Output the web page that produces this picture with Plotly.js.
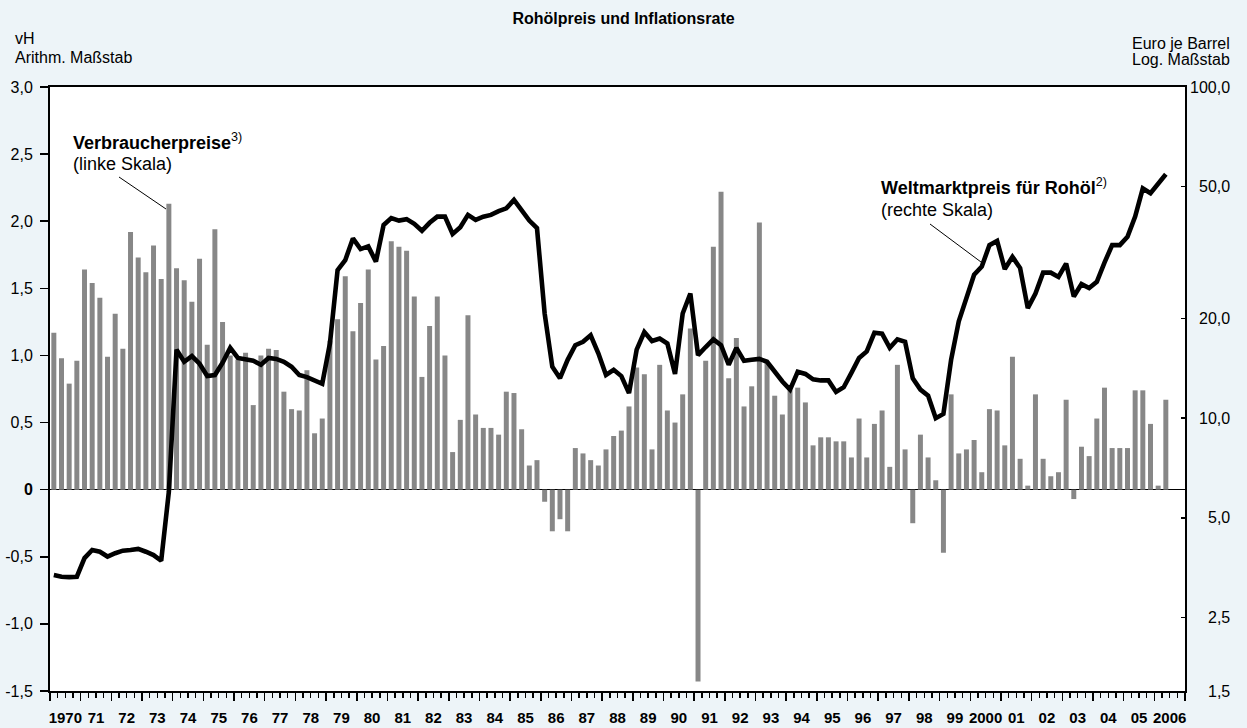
<!DOCTYPE html>
<html>
<head>
<meta charset="utf-8">
<script src="https://cdn.plot.ly/plotly-3.0.1.min.js"></script>
<style>
  html, body { margin: 0; padding: 0; background: #EDF4F8; }
  #chart { width: 1247px; height: 728px; }
</style>
</head>
<body>
<div id="chart"></div>
<script>
// ---- Data (quarterly, 1970 Q1 – 2006 Q2) ----
const firstYear = 1970;
const lastYear = 2006;

// Verbraucherpreise, Veränderung gegenüber Vorquartal in vH (linke Skala)
const consumerPrices = [
  1.17, 0.98, 0.79, 0.96,   // 1970
  1.64, 1.54, 1.43, 0.99,   // 1971
  1.31, 1.05, 1.92, 1.73,   // 1972
  1.62, 1.82, 1.57, 2.13,   // 1973
  1.65, 1.56, 1.40, 1.72,   // 1974
  1.08, 1.94, 1.25, 1.00,   // 1975
  0.97, 1.02, 0.63, 1.00,   // 1976
  1.05, 1.04, 0.73, 0.60,   // 1977
  0.59, 0.89, 0.42, 0.53,   // 1978
  1.11, 1.27, 1.59, 1.18,   // 1979
  1.39, 1.64, 0.97, 1.07,   // 1980
  1.85, 1.81, 1.78, 1.44,   // 1981
  0.84, 1.22, 1.44, 1.00,   // 1982
  0.28, 0.52, 1.30, 0.56,   // 1983
  0.46, 0.46, 0.41, 0.73,   // 1984
  0.72, 0.45, 0.18, 0.22,   // 1985
  -0.09, -0.31, -0.22, -0.31, // 1986
  0.31, 0.27, 0.22, 0.18,   // 1987
  0.30, 0.40, 0.44, 0.62,   // 1988
  0.91, 0.86, 0.30, 0.93,   // 1989
  0.59, 0.50, 0.71, 1.20,   // 1990
  -1.43, 0.96, 1.81, 2.22,  // 1991
  0.83, 1.13, 0.62, 0.77,   // 1992
  1.99, 0.95, 0.70, 0.56,   // 1993
  0.74, 0.76, 0.65, 0.33,   // 1994
  0.39, 0.39, 0.36, 0.36,   // 1995
  0.24, 0.53, 0.24, 0.49,   // 1996
  0.59, 0.17, 0.93, 0.30,   // 1997
  -0.25, 0.41, 0.24, 0.07,  // 1998
  -0.47, 0.71, 0.27, 0.30,  // 1999
  0.37, 0.13, 0.60, 0.59,   // 2000
  0.33, 0.99, 0.23, 0.03,   // 2001
  0.71, 0.23, 0.10, 0.13,   // 2002
  0.67, -0.07, 0.32, 0.25,  // 2003
  0.53, 0.76, 0.31, 0.31,   // 2004
  0.31, 0.74, 0.74, 0.49,   // 2005
  0.03, 0.67                // 2006
];

// Weltmarktpreis für Rohöl, Euro je Barrel (rechte Skala, log.)
const oilPrice = [
  3.36, 3.32, 3.31, 3.32,   // 1970
  3.78, 4.00, 3.95, 3.82,   // 1971
  3.91, 3.98, 4.00, 4.03,   // 1972
  3.95, 3.86, 3.71, 6.00,   // 1973
  16.1, 14.8, 15.4, 14.6,   // 1974
  13.4, 13.5, 14.7, 16.3,   // 1975
  15.2, 15.1, 14.9, 14.5,   // 1976
  15.2, 15.1, 14.8, 14.3,   // 1977
  13.5, 13.3, 13.0, 12.7,   // 1978
  16.8, 28.0, 30.0, 34.9,   // 1979
  32.4, 33.0, 29.7, 38.3,   // 1980
  40.2, 39.5, 39.9, 38.6,   // 1981
  36.8, 38.9, 40.6, 40.6,   // 1982
  36.0, 37.7, 41.1, 39.7,   // 1983
  40.6, 41.1, 42.2, 43.0,   // 1984
  45.6, 42.7, 39.5, 37.5,   // 1985
  20.7, 14.3, 13.2, 15.0,   // 1986
  16.6, 17.0, 17.8, 15.7,   // 1987
  13.5, 14.0, 13.4, 11.9,   // 1988
  16.1, 18.2, 17.1, 17.4,   // 1989
  16.8, 13.6, 20.7, 23.8,   // 1990
  15.5, 16.4, 17.3, 16.6,   // 1991
  14.5, 16.3, 14.9, 15.0,   // 1992
  15.1, 14.8, 13.8, 12.9,   // 1993
  12.2, 13.8, 13.6, 13.1,   // 1994
  13.0, 13.0, 12.0, 12.4,   // 1995
  13.7, 15.2, 15.9, 18.1,   // 1996
  18.0, 16.3, 17.3, 17.0,   // 1997
  13.2, 12.2, 11.7, 10.0,   // 1998
  10.3, 15.0, 19.6, 23.0,   // 1999
  27.1, 28.7, 33.3, 34.3,   // 2000
  28.2, 30.7, 28.4, 21.5,   // 2001
  23.8, 27.5, 27.5, 26.7,   // 2002
  29.3, 23.3, 25.4, 24.7,   // 2003
  25.8, 29.5, 33.3, 33.3,   // 2004
  35.3, 40.6, 49.4, 47.8,   // 2005
  51.2, 54.5                // 2006
];

// Tick labels
const yearLabels = ["1970","71","72","73","74","75","76","77","78","79",
  "80","81","82","83","84","85","86","87","88","89","90","91","92","93","94",
  "95","96","97","98","99","2000","01","02","03","04","05","2006"];
const leftTickVals = [3, 2.5, 2, 1.5, 1, 0.5, 0, -0.5, -1, -1.5];
const leftTickText = ["3,0","2,5","2,0","1,5","1,0","0,5","<b>0</b>","-0,5","-1,0","-1,5"];
const rightTickVals = [100, 50, 20, 10, 5, 2.5, 1.5];
const rightTickText = ["100,0","50,0","20,0","10,0","5,0","2,5","1,5"];

// ---- Quarter positions (decimal years, quarter centres) ----
const quarterX = [];
for (let y = firstYear; y <= lastYear; y++) {
  for (let q = 0; q < 4; q++) quarterX.push(y + (q + 0.5) / 4);
}
const yearCenters = yearLabels.map((_, i) => firstYear + i + 0.5);

// ---- Layout geometry helpers (pixel -> paper) ----
const W = 1247, H = 728;
const M = { l: 50, r: 62, t: 87, b: 37 };
const PW = W - M.l - M.r, PH = H - M.t - M.b;
const px = x => (x - M.l) / PW;
const py = y => (H - M.b - y) / PH;

const FONT = "Liberation Sans, Arial, Helvetica, sans-serif";

const traces = [
  {
    type: "bar",
    x: quarterX.slice(0, consumerPrices.length),
    y: consumerPrices,
    marker: { color: "#878787", line: { width: 0 } },
    xaxis: "x", yaxis: "y",
    hoverinfo: "x+y",
    name: "Verbraucherpreise"
  },
  {
    type: "scatter",
    mode: "lines",
    x: quarterX.slice(0, oilPrice.length),
    y: oilPrice,
    line: { color: "#000000", width: 4.6 },
    xaxis: "x", yaxis: "y2",
    name: "Weltmarktpreis für Rohöl"
  },
  {
    type: "scatter", mode: "markers",
    x: [yearCenters[0]], y: [null],
    xaxis: "x2", yaxis: "y",
    hoverinfo: "skip", showlegend: false
  }
];

const annotations = [
  { text: "<b>Verbraucherpreise</b><sup>3)</sup>", x: px(71), y: py(142), size: 18 },
  { text: "(linke Skala)", x: px(71), y: py(164), size: 18 },
  { text: "<b>Weltmarktpreis für Rohöl</b><sup>2)</sup>", x: px(879), y: py(187), size: 18 },
  { text: "(rechte Skala)", x: px(879), y: py(210), size: 18 },
  { text: "vH", x: px(13), y: py(38), size: 16 },
  { text: "Arithm. Maßstab", x: px(13), y: py(57), size: 16 },
  { text: "Euro je Barrel", x: px(1232), y: py(43), size: 16, right: true },
  { text: "Log. Maßstab", x: px(1232), y: py(60), size: 16, right: true }
].map(a => ({
  text: a.text, x: a.x, y: a.y,
  xref: "paper", yref: "paper", showarrow: false,
  xanchor: a.right ? "right" : "left", yanchor: "middle",
  font: { family: FONT, size: a.size, color: "#000" }
}));

rightTickVals.forEach((v, i) => {
  annotations.push({
    text: rightTickText[i], xref: "paper", yref: "y2",
    x: px(1232), y: Math.log10(v), xanchor: "right", yanchor: "middle",
    showarrow: false, font: { family: FONT, size: 16, color: "#000" }
  });
});

const shapes = [
  { type: "line", xref: "paper", yref: "paper", x0: px(119), y0: py(177), x1: px(166), y1: py(209),
    line: { color: "#000", width: 1 } },
  { type: "line", xref: "paper", yref: "paper", x0: px(930), y0: py(224), x1: px(981), y1: py(262),
    line: { color: "#000", width: 1 } }
];

const layout = {
  width: W, height: H,
  margin: M,
  paper_bgcolor: "#EDF4F8",
  plot_bgcolor: "#FFFFFF",
  showlegend: false,
  bargap: 0.35,
  font: { family: FONT, size: 16, color: "#000" },
  title: {
    text: "<b>Rohölpreis und Inflationsrate</b>",
    x: 0.5, xref: "container", xanchor: "center",
    y: 1 - 18 / H, yref: "container", yanchor: "middle",
    font: { family: FONT, size: 16, color: "#000" }
  },
  xaxis: {
    range: [firstYear, lastYear + 1],
    tickmode: "linear", tick0: firstYear, dtick: 1,
    ticks: "outside", ticklen: 8, tickwidth: 1.5, tickcolor: "#000",
    minor: { ticks: "outside", ticklen: 5, tickwidth: 1.5, tickcolor: "#000", dtick: 0.25, tick0: firstYear, showgrid: false },
    showticklabels: false,
    showline: true, linewidth: 2, linecolor: "#000", mirror: true,
    showgrid: false, zeroline: false, fixedrange: true
  },
  xaxis2: {
    overlaying: "x", anchor: "y", side: "bottom",
    range: [firstYear, lastYear + 1],
    tickmode: "array", tickvals: yearCenters, ticktext: yearLabels,
    ticks: "", ticklabelstandoff: 16,
    tickfont: { family: FONT, size: 15, color: "#000", weight: "bold" },
    showline: false, showgrid: false, zeroline: false, fixedrange: true
  },
  yaxis: {
    range: [-1.5, 3],
    tickmode: "array", tickvals: leftTickVals, ticktext: leftTickText,
    ticks: "outside", ticklen: 8, tickwidth: 1.5, tickcolor: "#000",
    ticklabelstandoff: 4,
    tickfont: { family: FONT, size: 16, color: "#000" },
    showline: true, linewidth: 2, linecolor: "#000", mirror: true,
    showgrid: false,
    zeroline: true, zerolinecolor: "#000", zerolinewidth: 1.5,
    fixedrange: true
  },
  yaxis2: {
    overlaying: "y", side: "right", anchor: "x",
    type: "log",
    range: [Math.log10(1.5), 2],
    tickmode: "array", tickvals: rightTickVals,
    ticks: "inside", ticklen: 4, tickwidth: 1.5, tickcolor: "#000",
    showticklabels: false,
    showline: true, linewidth: 2, linecolor: "#000",
    showgrid: false, zeroline: false, fixedrange: true
  },
  annotations: annotations,
  shapes: shapes
};

Plotly.newPlot("chart", traces, layout, { displayModeBar: false, staticPlot: true });
</script>
</body>
</html>
